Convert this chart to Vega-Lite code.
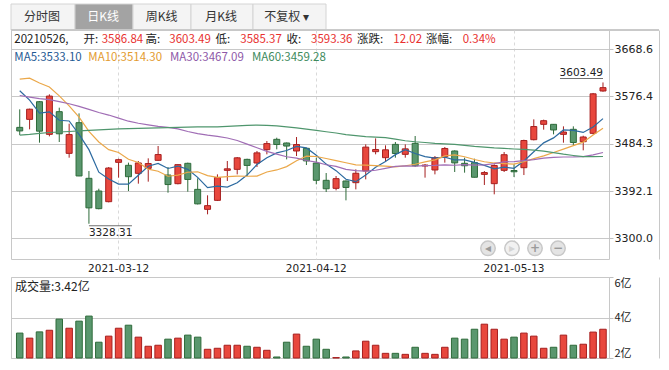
{
"$schema": "https://vega.github.io/schema/vega-lite/v6.json",
"background": "white",
"padding": {"left": 10, "top": 3, "right": 0, "bottom": 0},
"config": {"view": {"stroke": "#c8c8c8", "strokeWidth": 1}},
"datasets": {
"k": [
{"d":"2021-02-26","o":3516.0,"h":3551.1,"l":3501.1,"c":3509.08,"v":3.23,"ma5":3587.40,"ma10":3609.96,"ma30":3578,"ma60":3501},
{"d":"2021-03-01","o":3531.6,"h":3552.4,"l":3512.2,"c":3551.40,"v":2.98,"ma5":3569.19,"ma10":3611.85,"ma30":3575,"ma60":3502.5},
{"d":"2021-03-02","o":3566.0,"h":3567.3,"l":3486.2,"c":3508.59,"v":3.29,"ma5":3543.64,"ma10":3602.36,"ma30":3572,"ma60":3504.5},
{"d":"2021-03-03","o":3502.4,"h":3580.3,"l":3498.5,"c":3576.90,"v":3.37,"ma5":3546.20,"ma10":3594.54,"ma30":3570,"ma60":3506},
{"d":"2021-03-04","o":3546.6,"h":3554.3,"l":3487.5,"c":3503.49,"v":3.92,"ma5":3529.89,"ma10":3577.36,"ma30":3566,"ma60":3507},
{"d":"2021-03-05","o":3465.4,"h":3523.2,"l":3457.0,"c":3501.99,"v":3.47,"ma5":3528.47,"ma10":3557.94,"ma30":3562,"ma60":3508},
{"d":"2021-03-08","o":3525.1,"h":3543.3,"l":3421.0,"c":3421.41,"v":3.82,"ma5":3502.48,"ma10":3535.84,"ma30":3557,"ma60":3509},
{"d":"2021-03-09","o":3416.8,"h":3431.0,"l":3328.31,"c":3359.29,"v":4.07,"ma5":3472.62,"ma10":3508.13,"ma30":3551,"ma60":3510},
{"d":"2021-03-10","o":3392.1,"h":3396.6,"l":3356.4,"c":3357.74,"v":2.78,"ma5":3428.78,"ma10":3487.49,"ma30":3545,"ma60":3511},
{"d":"2021-03-11","o":3371.3,"h":3438.8,"l":3370.0,"c":3436.83,"v":3.08,"ma5":3415.45,"ma10":3472.67,"ma30":3540,"ma60":3512},
{"d":"2021-03-12","o":3447.9,"h":3455.0,"l":3418.1,"c":3453.08,"v":3.47,"ma5":3405.67,"ma10":3467.07,"ma30":3534,"ma60":3513},
{"d":"2021-03-15","o":3442.1,"h":3447.3,"l":3392.1,"c":3419.95,"v":3.62,"ma5":3405.38,"ma10":3453.93,"ma30":3528,"ma60":3513.5},
{"d":"2021-03-16","o":3426.5,"h":3450.5,"l":3406.4,"c":3446.73,"v":3.03,"ma5":3422.87,"ma10":3447.74,"ma30":3524,"ma60":3514},
{"d":"2021-03-17","o":3436.2,"h":3455.7,"l":3410.3,"c":3445.55,"v":2.58,"ma5":3440.43,"ma10":3434.61,"ma30":3521,"ma60":3514.5},
{"d":"2021-03-18","o":3451.8,"h":3479.7,"l":3451.0,"c":3463.07,"v":2.63,"ma5":3445.68,"ma10":3430.56,"ma30":3518,"ma60":3515},
{"d":"2021-03-19","o":3423.2,"h":3438.8,"l":3388.8,"c":3404.66,"v":2.93,"ma5":3435.99,"ma10":3420.83,"ma30":3516,"ma60":3515.5},
{"d":"2021-03-22","o":3406.4,"h":3444.0,"l":3405.1,"c":3443.44,"v":2.98,"ma5":3440.69,"ma10":3423.03,"ma30":3513,"ma60":3516},
{"d":"2021-03-23","o":3446.0,"h":3447.3,"l":3390.8,"c":3414.62,"v":3.13,"ma5":3434.27,"ma10":3428.57,"ma30":3508,"ma60":3516.5},
{"d":"2021-03-24","o":3395.3,"h":3416.8,"l":3366.0,"c":3367.06,"v":3.03,"ma5":3418.57,"ma10":3429.50,"ma30":3504,"ma60":3517},
{"d":"2021-03-25","o":3356.4,"h":3383.7,"l":3346.7,"c":3363.59,"v":2.43,"ma5":3398.67,"ma10":3422.18,"ma30":3501,"ma60":3517},
{"d":"2021-03-26","o":3373.9,"h":3424.5,"l":3372.6,"c":3418.33,"v":2.48,"ma5":3401.41,"ma10":3418.70,"ma30":3498.58,"ma60":3517},
{"d":"2021-03-29","o":3432.3,"h":3450.5,"l":3411.6,"c":3435.30,"v":2.63,"ma5":3399.78,"ma10":3420.24,"ma30":3495.34,"ma60":3518},
{"d":"2021-03-30","o":3434.3,"h":3458.3,"l":3424.5,"c":3456.68,"v":2.63,"ma5":3408.19,"ma10":3421.23,"ma30":3490.44,"ma60":3519},
{"d":"2021-03-31","o":3453.7,"h":3455.0,"l":3421.3,"c":3441.91,"v":2.58,"ma5":3423.16,"ma10":3420.87,"ma30":3483.34,"ma60":3520},
{"d":"2021-04-01","o":3446.6,"h":3470.0,"l":3438.8,"c":3466.33,"v":2.53,"ma5":3443.71,"ma10":3421.19,"ma30":3476.37,"ma60":3520.5},
{"d":"2021-04-02","o":3472.6,"h":3489.4,"l":3463.5,"c":3484.39,"v":2.38,"ma5":3456.92,"ma10":3429.17,"ma30":3469.31,"ma60":3520},
{"d":"2021-04-06","o":3492.7,"h":3495.9,"l":3473.2,"c":3482.59,"v":2.05,"ma5":3466.38,"ma10":3433.08,"ma30":3463.98,"ma60":3519},
{"d":"2021-04-07","o":3485.6,"h":3486.5,"l":3453.7,"c":3479.63,"v":2.78,"ma5":3470.97,"ma10":3439.58,"ma30":3458.76,"ma60":3517},
{"d":"2021-04-08","o":3470.0,"h":3497.2,"l":3460.2,"c":3482.55,"v":3.18,"ma5":3479.10,"ma10":3451.13,"ma30":3456.04,"ma60":3515},
{"d":"2021-04-09","o":3475.2,"h":3476.0,"l":3442.7,"c":3450.68,"v":2.58,"ma5":3475.97,"ma10":3459.84,"ma30":3451.56,"ma60":3512.5},
{"d":"2021-04-12","o":3446.6,"h":3457.0,"l":3405.1,"c":3412.95,"v":2.93,"ma5":3461.68,"ma10":3459.30,"ma30":3448.36,"ma60":3510},
{"d":"2021-04-13","o":3412.9,"h":3427.1,"l":3390.1,"c":3396.47,"v":2.43,"ma5":3444.46,"ma10":3455.42,"ma30":3443.19,"ma60":3507.5},
{"d":"2021-04-14","o":3397.3,"h":3421.3,"l":3393.4,"c":3416.15,"v":2.02,"ma5":3431.76,"ma10":3451.37,"ma30":3440.11,"ma60":3505},
{"d":"2021-04-15","o":3411.6,"h":3412.5,"l":3373.9,"c":3398.99,"v":2.05,"ma5":3415.05,"ma10":3447.07,"ma30":3434.18,"ma60":3502},
{"d":"2021-04-16","o":3408.3,"h":3434.3,"l":3395.3,"c":3426.62,"v":2.35,"ma5":3410.24,"ma10":3443.10,"ma30":3431.62,"ma60":3500},
{"d":"2021-04-19","o":3431.0,"h":3482.9,"l":3414.8,"c":3477.55,"v":2.83,"ma5":3423.16,"ma10":3442.42,"ma30":3430.80,"ma60":3498},
{"d":"2021-04-20","o":3468.7,"h":3494.6,"l":3463.5,"c":3472.94,"v":2.63,"ma5":3438.45,"ma10":3441.45,"ma30":3432.52,"ma60":3497},
{"d":"2021-04-21","o":3457.0,"h":3481.0,"l":3449.2,"c":3472.31,"v":2.23,"ma5":3449.68,"ma10":3440.72,"ma30":3436.29,"ma60":3496},
{"d":"2021-04-22","o":3482.9,"h":3487.5,"l":3457.0,"c":3465.11,"v":2.23,"ma5":3462.91,"ma10":3438.98,"ma30":3439.87,"ma60":3493},
{"d":"2021-04-23","o":3463.5,"h":3482.9,"l":3457.0,"c":3474.17,"v":2.18,"ma5":3472.42,"ma10":3441.33,"ma30":3441.11,"ma60":3490},
{"d":"2021-04-26","o":3484.9,"h":3499.2,"l":3438.8,"c":3441.17,"v":2.53,"ma5":3465.14,"ma10":3444.15,"ma30":3440.72,"ma60":3488},
{"d":"2021-04-27","o":3440.8,"h":3444.7,"l":3418.1,"c":3442.61,"v":2.23,"ma5":3459.07,"ma10":3448.76,"ma30":3441.47,"ma60":3486.5},
{"d":"2021-04-28","o":3433.0,"h":3460.2,"l":3424.5,"c":3457.07,"v":2.18,"ma5":3456.03,"ma10":3452.85,"ma30":3441.82,"ma60":3485},
{"d":"2021-04-29","o":3459.0,"h":3477.8,"l":3447.3,"c":3474.90,"v":2.53,"ma5":3457.98,"ma10":3460.45,"ma30":3442.79,"ma60":3484},
{"d":"2021-04-30","o":3470.0,"h":3471.3,"l":3429.1,"c":3446.86,"v":2.98,"ma5":3452.52,"ma10":3462.47,"ma30":3442.25,"ma60":3483},
{"d":"2021-05-06","o":3446.0,"h":3457.0,"l":3427.8,"c":3441.28,"v":2.93,"ma5":3452.54,"ma10":3458.84,"ma30":3443.48,"ma60":3481},
{"d":"2021-05-07","o":3447.3,"h":3455.0,"l":3418.5,"c":3418.87,"v":3.42,"ma5":3447.80,"ma10":3453.44,"ma30":3442.66,"ma60":3479},
{"d":"2021-05-10","o":3424.5,"h":3431.0,"l":3403.8,"c":3427.99,"v":3.67,"ma5":3441.98,"ma10":3449.00,"ma30":3443.10,"ma60":3477.5},
{"d":"2021-05-11","o":3406.4,"h":3444.0,"l":3385.6,"c":3441.85,"v":3.42,"ma5":3435.37,"ma10":3446.68,"ma30":3445.59,"ma60":3476},
{"d":"2021-05-12","o":3432.3,"h":3468.0,"l":3429.1,"c":3462.75,"v":2.93,"ma5":3438.55,"ma10":3445.54,"ma30":3448.90,"ma60":3475},
{"d":"2021-05-13","o":3432.0,"h":3444.0,"l":3419.3,"c":3429.54,"v":3.03,"ma5":3436.20,"ma10":3444.37,"ma30":3449.27,"ma60":3473.9},
{"d":"2021-05-14","o":3437.5,"h":3492.0,"l":3423.2,"c":3490.38,"v":3.23,"ma5":3450.50,"ma10":3449.15,"ma30":3451.11,"ma60":3473.2},
{"d":"2021-05-17","o":3492.0,"h":3531.6,"l":3490.7,"c":3517.62,"v":3.08,"ma5":3468.43,"ma10":3455.20,"ma30":3453.14,"ma60":3471.8},
{"d":"2021-05-18","o":3521.9,"h":3531.0,"l":3511.5,"c":3529.01,"v":2.48,"ma5":3485.86,"ma10":3460.62,"ma30":3456.04,"ma60":3469.7},
{"d":"2021-05-19","o":3521.9,"h":3522.5,"l":3502.4,"c":3510.96,"v":2.53,"ma5":3495.50,"ma10":3467.03,"ma30":3457.53,"ma60":3466.9},
{"d":"2021-05-20","o":3502.4,"h":3518.0,"l":3486.2,"c":3506.94,"v":3.13,"ma5":3510.98,"ma10":3473.59,"ma30":3458.28,"ma60":3463.8},
{"d":"2021-05-21","o":3512.2,"h":3518.0,"l":3481.7,"c":3486.56,"v":2.63,"ma5":3510.22,"ma10":3480.36,"ma30":3458.42,"ma60":3461.2},
{"d":"2021-05-24","o":3488.1,"h":3499.8,"l":3471.3,"c":3497.28,"v":2.68,"ma5":3506.15,"ma10":3487.29,"ma30":3459.00,"ma60":3458.9},
{"d":"2021-05-25","o":3504.4,"h":3583.0,"l":3502.4,"c":3581.34,"v":3.28,"ma5":3516.62,"ma10":3501.24,"ma30":3462.30,"ma60":3459.1},
{"d":"2021-05-26","o":3586.84,"h":3603.49,"l":3585.37,"c":3593.36,"v":3.42,"ma5":3533.10,"ma10":3514.30,"ma30":3467.09,"ma60":3459.28}
],
"tabs": [
{"name":"分时图","a":0,"b":1,"m":0.5,"sel":0},
{"name":"日K线","a":1,"b":2,"m":1.5,"sel":1},
{"name":"周K线","a":2,"b":3,"m":2.5,"sel":0},
{"name":"月K线","a":3,"b":4,"m":3.5,"sel":0},
{"name":"不复权 ▾","a":4,"b":5,"m":4.5,"sel":0}
],
"pc": [
{"c":0,"r":0,"t":"20210526,","kind":"lab"},
{"c":1,"r":0,"t":"开:","kind":"lab"},
{"c":2,"r":0,"t":"3586.84","kind":"val"},
{"c":3,"r":0,"t":"高:","kind":"lab"},
{"c":4,"r":0,"t":"3603.49","kind":"val"},
{"c":5,"r":0,"t":"低:","kind":"lab"},
{"c":6,"r":0,"t":"3585.37","kind":"val"},
{"c":7,"r":0,"t":"收:","kind":"lab"},
{"c":8,"r":0,"t":"3593.36","kind":"val"},
{"c":9,"r":0,"t":"涨跌:","kind":"lab"},
{"c":10,"r":0,"t":"12.02","kind":"val"},
{"c":11,"r":0,"t":"涨幅:","kind":"lab"},
{"c":12,"r":0,"t":"0.34%","kind":"val"},
{"c":13,"r":1,"t":"MA5:3533.10","kind":"ma5"},
{"c":14,"r":1,"t":"MA10:3514.30","kind":"ma10"},
{"c":15,"r":1,"t":"MA30:3467.09","kind":"ma30"},
{"c":16,"r":1,"t":"MA60:3459.28","kind":"ma60"},
{"c":17,"r":2,"t":"◂","kind":"btn"},
{"c":18,"r":2,"t":"▸","kind":"btnoff"},
{"c":19,"r":2,"t":"+","kind":"btn"},
{"c":20,"r":2,"t":"−","kind":"btn"}
],
"vc": [{"c":0,"r":0,"t":"成交量:3.42亿"}]
},
"spacing": 0,
"bounds": "flush",
"vconcat": [
{
"width": 648, "height": 26,
"view": {"stroke": null},
"data": {"name": "tabs"},
"layer": [
{"mark": {"type": "bar", "stroke": "#d4d4d4", "strokeWidth": 1},
 "encoding": {
  "x": {"field": "a", "type": "quantitative", "scale": {"domain": [0,0.5,1,1.5,2,2.5,3,3.5,4,4.5,5], "range": [0,31,64,92,122,150.7,180,210,242,275.7,315], "zero": false, "nice": false}, "axis": null},
  "x2": {"field": "b"},
  "y": {"datum": 1, "type": "quantitative", "scale": {"domain": [0, 1], "zero": false, "nice": false}, "axis": null},
  "y2": {"datum": 0},
  "fill": {"condition": {"test": "datum.sel == 1", "value": "#a3a3a3"}, "value": "#f4f4f4"}
 }},
{"mark": {"type": "text", "fontSize": 12, "font": "Noto Sans CJK SC", "baseline": "middle", "align": "center"},
 "encoding": {
  "x": {"field": "m", "type": "quantitative"},
  "y": {"datum": 0.5, "type": "quantitative"},
  "text": {"field": "name"},
  "fill": {"condition": {"test": "datum.sel == 1", "value": "#ffffff"}, "value": "#333333"}
 }},
{"mark": {"type": "rule", "stroke": "#c8c8c8", "strokeWidth": 1},
 "encoding": {"y": {"datum": 0, "type": "quantitative"}}}
]
},
{
"spacing": 18,
"bounds": "flush",
"vconcat": [
{
"width": 598, "height": 229,
"layer": [
{
"data": {"name": "k"},
"layer": [
{"mark": {"type": "rule", "strokeWidth": 1},
 "encoding": {
  "x": {"field": "d", "type": "ordinal", "scale": {"type": "band", "paddingInner": 0, "paddingOuter": 0.245, "align": 0.78},
        "axis": {"values": ["2021-03-12","2021-04-12","2021-05-13"], "title": null, "domain": false, "ticks": false, "tickSize": 0, "labelPadding": 4, "labelFontSize": 10.5, "labelFont": "DejaVu Sans", "labelColor": "#222222", "labelAngle": 0, "bandPosition": 0.5, "grid": true, "gridDash": [3,3], "gridColor": "#d9d9d9"}},
  "y": {"field": "l", "type": "quantitative", "scale": {"domain": [3259.7, 3705.6], "zero": false, "nice": false},
        "axis": {"orient": "right", "values": [3300, 3392.1, 3484.3, 3576.4, 3668.6], "format": ".1f", "title": null, "domain": false, "tickSize": 4, "tickColor": "#c0c0c0", "labelPadding": 1, "labelFontSize": 11, "labelFont": "DejaVu Sans", "labelColor": "#222222", "grid": true, "gridColor": "#c8c8c8"}},
  "y2": {"field": "h"},
  "stroke": {"condition": {"test": "datum.c >= datum.o", "value": "#a61f1f"}, "value": "#2e6b3a"}
 }},
{"mark": {"type": "bar", "size": 6, "strokeWidth": 1},
 "encoding": {
  "x": {"field": "d", "type": "ordinal"},
  "y": {"field": "o", "type": "quantitative"},
  "y2": {"field": "c"},
  "fill": {"condition": {"test": "datum.c >= datum.o", "value": "#e8473d"}, "value": "#5a976e"},
  "stroke": {"condition": {"test": "datum.c >= datum.o", "value": "#a61f1f"}, "value": "#2e6b3a"}
 }},
{"mark": {"type": "line", "stroke": "#2c6aa0", "strokeWidth": 1.2},
 "encoding": {"x": {"field": "d", "type": "ordinal"}, "y": {"field": "ma5", "type": "quantitative"}}},
{"mark": {"type": "line", "stroke": "#eba84a", "strokeWidth": 1.2},
 "encoding": {"x": {"field": "d", "type": "ordinal"}, "y": {"field": "ma10", "type": "quantitative"}}},
{"mark": {"type": "line", "stroke": "#a06db5", "strokeWidth": 1.2},
 "encoding": {"x": {"field": "d", "type": "ordinal"}, "y": {"field": "ma30", "type": "quantitative"}}},
{"mark": {"type": "line", "stroke": "#4f966d", "strokeWidth": 1.2},
 "encoding": {"x": {"field": "d", "type": "ordinal"}, "y": {"field": "ma60", "type": "quantitative"}}},
{"transform": [{"filter": "datum.d == '2021-05-26'"}],
 "mark": {"type": "text", "align": "right", "baseline": "middle", "dy": -9, "fontSize": 10.5, "font": "DejaVu Sans", "fill": "#222222"},
 "encoding": {"x": {"field": "d", "type": "ordinal"}, "y": {"field": "h", "type": "quantitative"}, "text": {"field": "h", "type": "quantitative", "format": ".2f"}}},
{"transform": [{"filter": "datum.d == '2021-05-26'"}],
 "mark": {"type": "tick", "orient": "horizontal", "size": 43, "thickness": 1, "xOffset": -21.5, "yOffset": -4, "color": "#333333"},
 "encoding": {"x": {"field": "d", "type": "ordinal"}, "y": {"field": "h", "type": "quantitative"}}},
{"transform": [{"filter": "datum.d == '2021-03-09'"}],
 "mark": {"type": "text", "align": "left", "baseline": "middle", "dy": 9.5, "fontSize": 10.5, "font": "DejaVu Sans", "fill": "#222222"},
 "encoding": {"x": {"field": "d", "type": "ordinal"}, "y": {"field": "l", "type": "quantitative"}, "text": {"field": "l", "type": "quantitative", "format": ".2f"}}},
{"transform": [{"filter": "datum.d == '2021-03-09'"}],
 "mark": {"type": "tick", "orient": "horizontal", "size": 43, "thickness": 1, "xOffset": 21.5, "yOffset": 2, "color": "#333333"},
 "encoding": {"x": {"field": "d", "type": "ordinal"}, "y": {"field": "l", "type": "quantitative"}}}
]
},
{
"data": {"name": "pc"},
"layer": [
{"transform": [{"filter": "datum.r < 2"}],
 "mark": {"type": "text", "align": "left", "baseline": "middle", "fontSize": 11.5, "font": "Noto Sans CJK SC"},
 "encoding": {
  "x": {"field": "c", "type": "quantitative", "scale": {"domain": [0,1,2,3,4,5,6,7,8,9,10,11,12,13,14,15,16,17,18,19,20], "range": [3.3,72.5,90.7,134.5,158.3,204.5,229.3,275.5,300,346,382.3,415,451.7,3.3,77.3,159,241,477,501,524,547], "zero": false, "nice": false}, "axis": null},
  "y": {"field": "r", "type": "quantitative", "scale": {"domain": [-1,0,1,2,3], "range": [0,9.5,27.7,218.3,229], "zero": false, "nice": false},
        "axis": {"orient": "right", "offset": 50, "domain": true, "domainColor": "#c8c8c8", "ticks": false, "labels": false, "grid": false, "title": null}},
  "text": {"field": "t"},
  "color": {"field": "kind", "type": "nominal", "scale": {"domain": ["lab","val","ma5","ma10","ma30","ma60","btn","btnoff"], "range": ["#222222","#e8312f","#1f5a94","#e39b2f","#8e58a8","#3d8a5c","#9a9a9a","#d4d4d4"]}, "legend": null}
 }},
{"transform": [{"filter": "datum.r == 2"}],
 "mark": {"type": "point", "shape": "circle", "filled": true, "size": 210, "stroke": "#c8c8c8", "strokeWidth": 1.5, "opacity": 1},
 "encoding": {
  "x": {"field": "c", "type": "quantitative"},
  "y": {"field": "r", "type": "quantitative"},
  "fill": {"condition": {"test": "datum.kind == 'btnoff'", "value": "#f1f1f1"}, "value": "#e4e4e4"}
 }},
{"transform": [{"filter": "datum.r == 2"}],
 "mark": {"type": "text", "align": "center", "baseline": "middle", "fontSize": 12, "font": "DejaVu Sans", "fontWeight": "bold"},
 "encoding": {
  "x": {"field": "c", "type": "quantitative"},
  "y": {"field": "r", "type": "quantitative"},
  "text": {"field": "t"},
  "color": {"field": "kind", "type": "nominal", "legend": null}
 }}
]
}
],
"resolve": {"scale": {"x": "independent", "y": "independent", "color": "independent"}}
},
{
"width": 598, "height": 81,
"layer": [
{"data": {"name": "k"},
 "mark": {"type": "bar", "size": 6.5, "strokeWidth": 1},
 "encoding": {
  "x": {"field": "d", "type": "ordinal", "scale": {"type": "band", "paddingInner": 0, "paddingOuter": 0.245, "align": 0.78}, "axis": null},
  "y": {"field": "v", "type": "quantitative", "scale": {"domain": [2, 6], "zero": false, "nice": false},
        "axis": {"orient": "right", "values": [2, 4, 6], "labelExpr": "datum.value + '亿'", "title": null, "domain": false, "tickSize": 4, "tickColor": "#c0c0c0", "labelPadding": 1, "labelFlush": true, "labelFont": "Noto Sans CJK SC", "labelFontSize": 11, "labelColor": "#222222", "grid": true, "gridColor": "#c8c8c8"}},
  "y2": {"datum": 2},
  "fill": {"condition": {"test": "datum.c >= datum.o", "value": "#e8473d"}, "value": "#5a976e"},
  "stroke": {"condition": {"test": "datum.c >= datum.o", "value": "#a61f1f"}, "value": "#2e6b3a"}
 }},
{"data": {"name": "vc"},
 "mark": {"type": "text", "align": "left", "baseline": "middle", "fontSize": 12, "font": "Noto Sans CJK SC", "fill": "#222222"},
 "encoding": {
  "x": {"field": "c", "type": "quantitative", "scale": {"domain": [0, 1], "range": [4, 100], "zero": false, "nice": false}, "axis": null},
  "y": {"field": "r", "type": "quantitative", "scale": {"domain": [-1, 0, 1], "range": [0, 10, 81], "zero": false, "nice": false},
        "axis": {"orient": "right", "offset": 50, "domain": true, "domainColor": "#c8c8c8", "ticks": false, "labels": false, "grid": false, "title": null}},
  "text": {"field": "t"}
 }}
],
"resolve": {"scale": {"x": "independent", "y": "independent"}}
}
]
}
]
}
